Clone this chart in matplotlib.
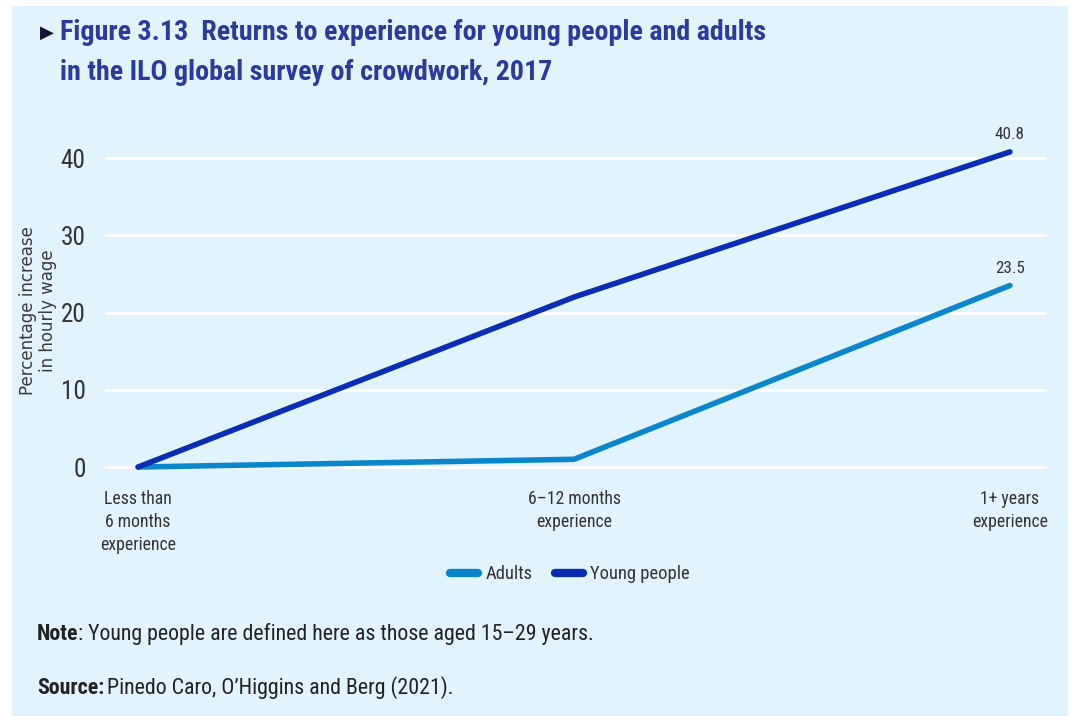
import matplotlib
matplotlib.use("Agg")
import matplotlib.pyplot as plt
from matplotlib.patches import Rectangle
from matplotlib.lines import Line2D
from matplotlib import font_manager as fm

categories = ["Less than\n6 months\nexperience", "6–12 months\nexperience", "1+ years\nexperience"]
adults = [0.0, 1.0, 23.5]
young = [0.0, 22.0, 40.8]
yticks = [0, 10, 20, 30, 40]

avail = {f.name for f in fm.fontManager.ttflist}
main = next((n for n in ["Roboto Condensed", "Open Sans Condensed", "Liberation Sans Narrow",
                         "Noto Sans Display", "Lato"] if n in avail), "DejaVu Sans")
FONT = [main, "DejaVu Sans"]
plt.rcParams['font.family'] = FONT

W, H = 1074, 716
fig = plt.figure(figsize=(W/100, H/100), dpi=100)
fig.patch.set_facecolor("white")
bg = "#e1f3fd"
fig.add_artist(Rectangle((12/W, 0), (W-12-6)/W, (H-6)/H, transform=fig.transFigure,
                         facecolor=bg, edgecolor="none", zorder=-10))
renderer = fig.canvas.get_renderer()

def fit(text, target_px, size=14, weight="normal", family=None):
    kw = {"family": family} if family else {}
    t = fig.text(0, 0, text, fontsize=size, fontweight=weight, **kw)
    w = t.get_window_extent(renderer).width
    t.remove()
    return size * target_px / w

ax = fig.add_axes([105/W, (H-478.6)/H, (1047-105)/W, (478.6-142.6)/H])
ax.set_facecolor(bg)
for s in ax.spines.values():
    s.set_visible(False)

c_ad = "#0b86cb"
c_yo = "#0a2db3"
x = list(range(len(categories)))
ax.plot(x, adults, color=c_ad, lw=4.0, solid_capstyle="round", zorder=3)
ax.plot(x, young, color=c_yo, lw=4.0, solid_capstyle="round", zorder=4)

ax.set_xlim(-0.076, 2.085)
ax.set_ylim(-1.5, 42)
ax.set_yticks(yticks)
ysz = min(fit("40", 25), 20)
ax.set_yticklabels([str(v) for v in yticks], fontsize=ysz, color="#333333")
ax.set_xticks(x)
xsz = fit("6–12 months", 93)
ax.set_xticklabels(categories, fontsize=xsz, color="#333333", linespacing=1.35)
ax.tick_params(length=0, pad=14)
ax.tick_params(axis="x", pad=8)
ax.yaxis.grid(True, color="white", lw=2)
ax.set_axisbelow(True)

lsz = fit("40.8", 30)
ax.annotate(f"{young[-1]:.1f}", (x[-1], young[-1]), xytext=(0, 7), textcoords="offset points",
            ha="center", va="bottom", fontsize=lsz, color="#333333")
ax.annotate(f"{adults[-1]:.1f}", (x[-1], adults[-1]), xytext=(0, 7), textcoords="offset points",
            ha="center", va="bottom", fontsize=lsz, color="#333333")

fig.text(38/W, 1-311/H, "Percentage increase\nin hourly wage", rotation=90, ha="center", va="center",
         fontsize=12, color="#3a3a3a", linespacing=1.15, family=["DejaVu Sans"])

legsz = fit("Young people", 100)
handles = [Line2D([], [], color=c_ad, lw=6, solid_capstyle="round"),
           Line2D([], [], color=c_yo, lw=6, solid_capstyle="round")]
fig.legend(handles, ["Adults", "Young people"], loc="center", bbox_to_anchor=(570/W, 1-574/H),
           ncol=2, frameon=False, fontsize=legsz, handlelength=1.5, columnspacing=1.2,
           handletextpad=0.4, labelcolor="#333333")

t1 = "Figure 3.13  Returns to experience for young people and adults"
tsz = fit(t1, 705, 20, "bold")
fig.text(40/W, 1-33/H, "▶", fontsize=13, color="#141436", va="center", ha="left", family=["DejaVu Sans"])
fig.text(60/W, 1-33/H, t1, fontsize=tsz, fontweight="bold", color="#2a3a9e", va="center", ha="left")
fig.text(60/W, 1-72/H, "in the ILO global survey of crowdwork, 2017",
         fontsize=tsz, fontweight="bold", color="#2a3a9e", va="center", ha="left")

note_body = ": Young people are defined here as those aged 15–29 years."
nsz = fit("Note" + note_body, 563)
tn = fig.text(37/W, 1-634/H, "Note", fontsize=nsz, fontweight="bold", color="#222222", va="center", ha="left")
wn = tn.get_window_extent(renderer).width
fig.text((37 + wn)/W, 1-634/H, note_body, fontsize=nsz, color="#222222", va="center", ha="left")
ts = fig.text(37/W, 1-688/H, "Source:", fontsize=nsz, fontweight="bold", color="#222222", va="center", ha="left")
ws = ts.get_window_extent(renderer).width
fig.text((37 + ws + 3)/W, 1-688/H, "Pinedo Caro, O’Higgins and Berg (2021).", fontsize=nsz,
         color="#222222", va="center", ha="left")

fig.savefig("out.png", dpi=100, facecolor=fig.get_facecolor())
